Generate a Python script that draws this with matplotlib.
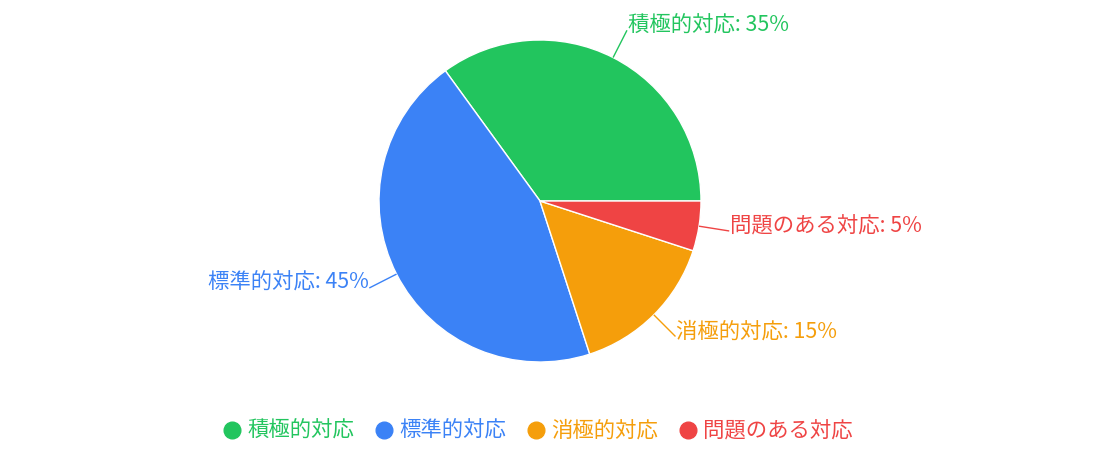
import numpy as np
import matplotlib
matplotlib.use("Agg")
import matplotlib.pyplot as plt
from matplotlib.lines import Line2D

plt.rcParams['font.family'] = ['Noto Sans CJK JP', 'DejaVu Sans']

categories = ['積極的対応', '標準的対応', '消極的対応', '問題のある対応']
values = [35, 45, 15, 5]
colors = ['#22c55e', '#3b82f6', '#f59e0b', '#ef4444']

W, H = 1106, 462
cx, cy, R = 540, 201, 161
fig = plt.figure(figsize=(W / 100, H / 100), dpi=100)
ax = fig.add_axes([0, 0, 1, 1])

wedges, _ = ax.pie(values, colors=colors, startangle=0, counterclock=True,
                   wedgeprops=dict(edgecolor='white', linewidth=1))
ax.set_xlim(-cx / R, (W - cx) / R)
ax.set_ylim(-(H - cy) / R, cy / R)
ax.set_aspect('equal', adjustable='box')
ax.axis('off')

fs = 15.4
for w, cat, v, c in zip(wedges, categories, values, colors):
    ang = np.deg2rad((w.theta1 + w.theta2) / 2)
    x0, y0 = np.cos(ang), np.sin(ang)
    x1, y1 = 1.19 * x0, 1.19 * y0
    ax.plot([x0, x1], [y0, y1], color=c, lw=1, solid_capstyle='butt')
    ha = 'left' if x0 >= 0 else 'right'
    tx = x1 + (0.005 if x0 >= 0 else -0.005)
    ax.text(tx, y1 + 5 / R, f'{cat}: {v}%', color=c, fontsize=fs, ha=ha, va='center')

handles = [Line2D([], [], marker='o', linestyle='none', markersize=12,
                  markerfacecolor=c, markeredgecolor=c) for c in colors]
leg = fig.legend(handles, categories, loc='center', bbox_to_anchor=(0.487, 1 - 431 / H),
                 ncol=4, frameon=False, fontsize=fs, handlelength=0.75,
                 handletextpad=0.35, columnspacing=1.0, borderpad=0)
for t, c in zip(leg.get_texts(), colors):
    t.set_color(c)

fig.savefig('out.png', dpi=100)
